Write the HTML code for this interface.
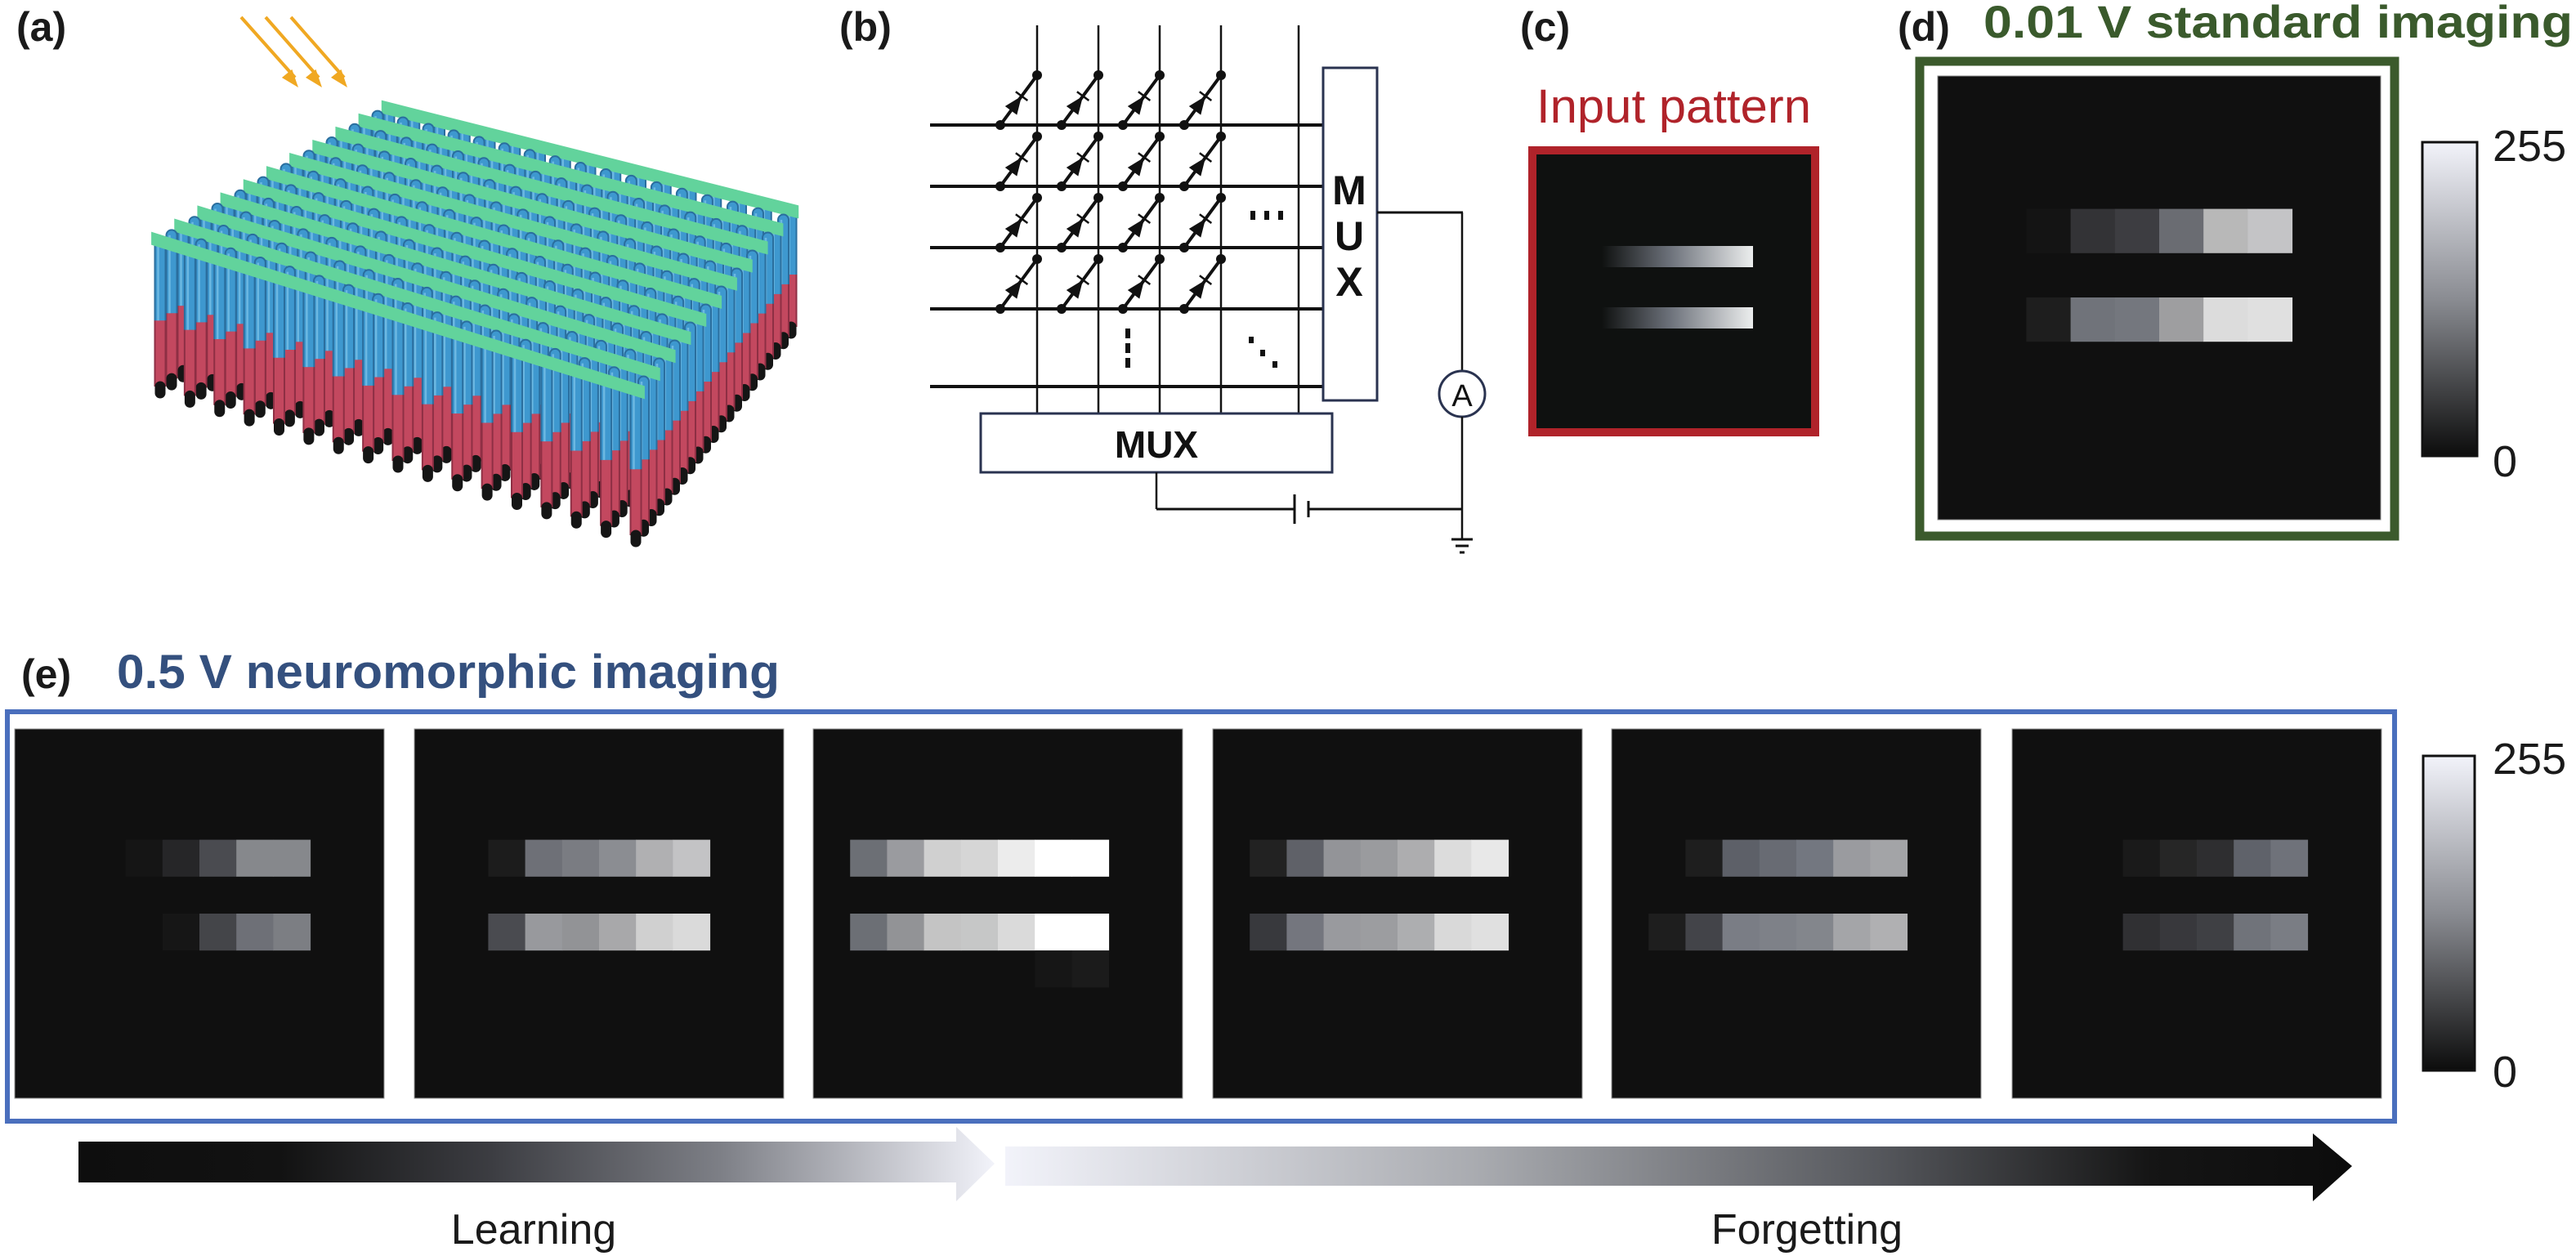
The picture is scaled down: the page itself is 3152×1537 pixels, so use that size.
<!DOCTYPE html>
<html><head><meta charset="utf-8"><style>
html,body{margin:0;padding:0;background:#fff;}
svg{display:block;}
text{font-family:"Liberation Sans",Arial,sans-serif;}
</style></head><body>
<svg id="s" xmlns="http://www.w3.org/2000/svg" width="3152" height="1537" viewBox="0 0 3152 1537">
<defs>
<linearGradient id="cb" x1="0" y1="1" x2="0" y2="0"><stop offset="0" stop-color="#0c0c0c"/><stop offset="0.5" stop-color="#8a8c92"/><stop offset="1" stop-color="#f2f3fa"/></linearGradient>
<linearGradient id="lg" x1="0" y1="0" x2="1" y2="0"><stop offset="0" stop-color="#0e0e0e"/><stop offset="0.22" stop-color="#121212"/><stop offset="0.45" stop-color="#3c3d42"/><stop offset="0.7" stop-color="#7d7f86"/><stop offset="1" stop-color="#f2f3fa"/></linearGradient>
<linearGradient id="fg" x1="0" y1="0" x2="1" y2="0"><stop offset="0" stop-color="#f2f3fa"/><stop offset="0.35" stop-color="#a9abb0"/><stop offset="0.65" stop-color="#55575c"/><stop offset="0.85" stop-color="#151515"/><stop offset="1" stop-color="#0c0c0c"/></linearGradient>
<linearGradient id="ig" x1="0" y1="0" x2="1" y2="0"><stop offset="0" stop-color="#0f1110"/><stop offset="0.45" stop-color="#6c717a"/><stop offset="1" stop-color="#eceeee"/></linearGradient>
</defs>
<g id="g"></g>
<text x="20" y="50" font-size="50" font-weight="bold" fill="#1a1a1a">(a)</text>
<text x="1027" y="50" font-size="50" font-weight="bold" fill="#1a1a1a">(b)</text>
<text x="1860" y="50" font-size="50" font-weight="bold" fill="#1a1a1a">(c)</text>
<text x="2322" y="50" font-size="50" font-weight="bold" fill="#1a1a1a">(d)</text>
<text x="2427" y="46" font-size="56" font-weight="bold" fill="#3a5a2c" textLength="721" lengthAdjust="spacingAndGlyphs">0.01 V standard imaging</text>
<text x="1880" y="150" font-size="58" fill="#b0232a" textLength="336" lengthAdjust="spacingAndGlyphs">Input pattern</text>
<text x="26" y="842" font-size="50" font-weight="bold" fill="#1a1a1a">(e)</text>
<text x="143" y="842" font-size="58" font-weight="bold" fill="#34507e" textLength="811" lengthAdjust="spacingAndGlyphs">0.5 V neuromorphic imaging</text>
<text x="653" y="1522" font-size="52" fill="#1a1a1a" text-anchor="middle">Learning</text>
<text x="2211" y="1522" font-size="52" fill="#1a1a1a" text-anchor="middle">Forgetting</text>
<text x="3050" y="197" font-size="54" fill="#1a1a1a">255</text>
<text x="3050" y="583" font-size="54" fill="#1a1a1a">0</text>
<text x="3050" y="947" font-size="54" fill="#1a1a1a">255</text>
<text x="3050" y="1330" font-size="54" fill="#1a1a1a">0</text>
<text x="1651" y="250" font-size="50" font-weight="bold" fill="#111" text-anchor="middle">M</text>
<text x="1651" y="306" font-size="50" font-weight="bold" fill="#111" text-anchor="middle">U</text>
<text x="1651" y="362" font-size="50" font-weight="bold" fill="#111" text-anchor="middle">X</text>
<text x="1415" y="560" font-size="46" font-weight="bold" fill="#111" text-anchor="middle">MUX</text>
<text x="1789" y="497" font-size="38" fill="#111" text-anchor="middle">A</text>
</svg>
<script>
var h='';
function R(x,y,w,hh,f,extra){h+='<rect x="'+x+'" y="'+y+'" width="'+w+'" height="'+hh+'" fill="'+f+'" '+(extra||'')+'/>';}
function L(x1,y1,x2,y2,c,w){h+='<line x1="'+x1+'" y1="'+y1+'" x2="'+x2+'" y2="'+y2+'" stroke="'+c+'" stroke-width="'+w+'"/>';}
var B0=[476,134],B1=[968,258],F0=[196,296],F1=[778,478];
function lp(a,b,t){return [a[0]+(b[0]-a[0])*t,a[1]+(b[1]-a[1])*t];}
var NR=21,NC=17;
function P(r,k){var t=r/(NR-1),s=k/(NC-1);return lp(lp(B0,F0,t),lp(B1,F1,t),s);}
for(var r=0;r<NR;r++){
 var t=r/(NR-1),len=150+35*t;
 for(var k=NC-1;k>=0;k--){
  var p=P(r,k),x=p[0],y=p[1];
  var yb=y+len*0.52, ye=y+len;
  h+='<line x1="'+x+'" y1="'+y+'" x2="'+x+'" y2="'+yb+'" stroke="#2a6e9e" stroke-width="15" stroke-linecap="round"/>';
  h+='<line x1="'+x+'" y1="'+yb+'" x2="'+x+'" y2="'+(ye-8)+'" stroke="#8e2f44" stroke-width="15"/>';
  h+='<line x1="'+x+'" y1="'+y+'" x2="'+x+'" y2="'+yb+'" stroke="#3e98cf" stroke-width="11" stroke-linecap="round"/>';
  h+='<line x1="'+x+'" y1="'+yb+'" x2="'+x+'" y2="'+(ye-8)+'" stroke="#c3485f" stroke-width="11"/>';
  h+='<line x1="'+(x-2.5)+'" y1="'+y+'" x2="'+(x-2.5)+'" y2="'+yb+'" stroke="#6cb8e2" stroke-width="2.5"/>';
  h+='<line x1="'+x+'" y1="'+(ye-8)+'" x2="'+x+'" y2="'+ye+'" stroke="#151515" stroke-width="13" stroke-linecap="round"/>';
 }
 if(r%2==0){
  var a=P(r,-0.3),b=P(r,NC-0.7);
  h+='<polygon points="'+a[0]+','+(a[1]-9)+' '+b[0]+','+(b[1]-9)+' '+b[0]+','+(b[1]+7)+' '+a[0]+','+(a[1]+7)+'" fill="#62d39c"/>';
 }
}
[[295,21,365,107],[325,21,394,107],[356,21,425,107]].forEach(function(q){
 L(q[0],q[1],q[2]-4,q[3]-12,'#f0a822',4);
 var dx=q[2]-q[0],dy=q[3]-q[1],n=Math.hypot(dx,dy),ux=dx/n,uy=dy/n;
 var bx=q[2]-ux*22,by=q[3]-uy*22;
 h+='<polygon points="'+q[2]+','+q[3]+' '+(bx-uy*8)+','+(by+ux*8)+' '+(bx+uy*8)+','+(by-ux*8)+'" fill="#f0a822"/>';
});
var vx=[1269,1344,1419,1494,1589],hy=[153,228,303,378,473];
vx.forEach(function(x){L(x,31,x,507,'#111',2.5);});
hy.forEach(function(y){L(1138,y,1619,y,'#111',4);});
for(var i=0;i<4;i++)for(var j=0;j<4;j++){
 var x2=vx[i],y2=hy[j]-61,x1=vx[i]-45,y1=hy[j];
 L(x1,y1,x2,y2,'#111',4);
 h+='<circle cx="'+x1+'" cy="'+y1+'" r="6" fill="#111"/><circle cx="'+x2+'" cy="'+y2+'" r="6" fill="#111"/>';
 var dx=x2-x1,dy=y2-y1,n=Math.hypot(dx,dy),ux=dx/n,uy=dy/n;
 var tx=x1+dx*0.58,ty=y1+dy*0.58,bx=tx-ux*22,by=ty-uy*22;
 h+='<polygon points="'+tx+','+ty+' '+(bx-uy*9)+','+(by+ux*9)+' '+(bx+uy*9)+','+(by-ux*9)+'" fill="#111"/>';
 L(tx-uy*9,ty+ux*9,tx+uy*9,ty-ux*9,'#111',2.5);
}
R(1619,83,66,407,'#fff','stroke="#2a3350" stroke-width="3"');
R(1200,506,430,72,'#fff','stroke="#2a3350" stroke-width="3"');
[1530,1547,1564].forEach(function(x){R(x,258,6,11,'#111');});
[402,420,438].forEach(function(y){R(1377,y,6,12,'#111');});
[[1528,412],[1542,428],[1557,442]].forEach(function(d){R(d[0],d[1],6,8,'#111');});
L(1685,260,1790,260,'#111',3);L(1789,260,1789,454,'#111',2.5);
h+='<circle cx="1789" cy="482" r="28" fill="#fff" stroke="#2a3350" stroke-width="3"/>';
L(1789,510,1789,660,'#111',2.5);
L(1415,578,1415,623,'#111',2.5);L(1415,623,1584,623,'#111',3);L(1601,623,1789,623,'#111',3);
L(1584,605,1584,641,'#111',3);L(1601,613,1601,633,'#111',3);
L(1776,660,1802,660,'#111',3);L(1781,668,1797,668,'#111',3);L(1786,676,1792,676,'#111',3);
R(1875,184,346,345,'#0f1110','stroke="#b0232a" stroke-width="10"');
R(1960,301,185,26,'url(#ig)');R(1960,376,185,26,'url(#ig)');
R(2349,75,581,581,'#fff','stroke="#3b5a2c" stroke-width="11"');
R(2371,93,542,543,'#101010','stroke="#888" stroke-width="1"');
var dc=54.2;
function cells(ox,oy,cs,row,list){list.forEach(function(e){R((ox+e[0]*cs).toFixed(1),(oy+row*cs).toFixed(1),(cs+0.5).toFixed(1),(cs).toFixed(1),e[1]);});}
cells(2371,93,dc,3,[[2,'#141414'],[3,'#333336'],[4,'#3d3d41'],[5,'#6a6c72'],[6,'#b8b8b8'],[7,'#c4c4c6']]);
cells(2371,93,dc,5,[[2,'#1e1e1e'],[3,'#70737a'],[4,'#74777e'],[5,'#9e9ea0'],[6,'#dcdcdc'],[7,'#e0e0e0']]);
R(2964,174,67,384,'url(#cb)','stroke="#111" stroke-width="3"');
R(9,871,2921,501,'none','stroke="#4a6fbd" stroke-width="6"');
var tx=[18,507,995,1484,1972,2462],ty=892,cs=45.2;
var data=[
 {3:[[3,'#151515'],[4,'#262628'],[5,'#4a4b50'],[6,'#86888c'],[7,'#86888c']],5:[[4,'#161616'],[5,'#444549'],[6,'#6e7077'],[7,'#7c7e83']]},
 {3:[[2,'#1c1c1c'],[3,'#6e7077'],[4,'#7a7c82'],[5,'#8b8d92'],[6,'#b0b0b2'],[7,'#c3c3c5']],5:[[2,'#4a4b50'],[3,'#98999d'],[4,'#929396'],[5,'#a8a8aa'],[6,'#d0d0d0'],[7,'#dadada']]},
 {3:[[1,'#6c6f75'],[2,'#9a9b9f'],[3,'#d0d0d0'],[4,'#d6d6d6'],[5,'#ececec'],[6,'#ffffff'],[7,'#ffffff']],5:[[1,'#6c6f75'],[2,'#929396'],[3,'#c4c4c4'],[4,'#c6c7c7'],[5,'#dadada'],[6,'#ffffff'],[7,'#ffffff']],6:[[6,'#161616'],[7,'#1b1b1b']]},
 {3:[[1,'#222222'],[2,'#5f6168'],[3,'#939498'],[4,'#9a9b9e'],[5,'#adadaf'],[6,'#dcdcdc'],[7,'#e8e8e8']],5:[[1,'#38393d'],[2,'#74767e'],[3,'#999a9e'],[4,'#9c9da0'],[5,'#adaeb0'],[6,'#d9d9d9'],[7,'#e0e0e0']]},
 {3:[[2,'#1e1e1e'],[3,'#5d6068'],[4,'#686b73'],[5,'#737780'],[6,'#9a9b9f'],[7,'#a3a4a7']],5:[[1,'#1e1e1e'],[2,'#434449'],[3,'#7a7d85'],[4,'#7e8188'],[5,'#83868c'],[6,'#a4a5a8'],[7,'#b0b0b2']]},
 {3:[[3,'#1a1a1a'],[4,'#262626'],[5,'#2e2e30'],[6,'#5f626a'],[7,'#6f727a']],5:[[3,'#303033'],[4,'#38383c'],[5,'#3f4044'],[6,'#70737a'],[7,'#7a7d84']]}
];
tx.forEach(function(x,i){
 R(x,ty,452,452,'#101010','stroke="#999" stroke-width="1"');
 for(var row in data[i])cells(x,ty,cs,+row,data[i][row]);
});
R(2965,925,63,385,'url(#cb)','stroke="#111" stroke-width="3"');
h+='<polygon points="96,1397 1170,1397 1170,1379 1217,1424 1170,1470 1170,1447 96,1447" fill="url(#lg)"/>';
h+='<polygon points="1230,1403 2830,1403 2830,1387 2878,1427 2830,1470 2830,1451 1230,1451" fill="url(#fg)"/>';
document.getElementById('g').innerHTML=h;
</script>
</body></html>
